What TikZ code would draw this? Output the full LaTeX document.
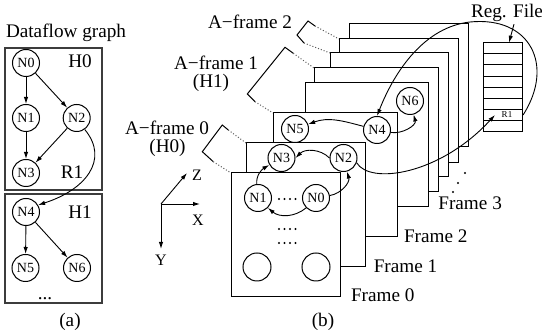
\documentclass[tikz,border=0pt]{standalone}
\usepackage{fontspec}
\setmainfont{Liberation Serif}
\usetikzlibrary{arrows.meta}
\definecolor{boxgray}{RGB}{60,60,60}
\definecolor{dotgray}{RGB}{90,90,90}

\begin{document}
\begin{tikzpicture}[x=0.5pt, y=-0.5pt,
    every node/.style={font=\fontsize{9.6}{11}\selectfont, inner sep=1pt},
    gnode/.style={circle, draw, inner sep=0pt, minimum size=13.5pt, line width=0.5pt,
                  font=\fontsize{7}{8}\selectfont},
    emptynode/.style={circle, draw, inner sep=0pt, minimum size=14pt, line width=0.5pt},
    regionbox/.style={rectangle, draw=boxgray, line width=0.7pt, minimum width=48.5pt, inner sep=0pt},
    framebox/.style={rectangle, draw, fill=white, line width=0.5pt, inner sep=0pt, outer sep=0pt},
    dotrow/.style={inner sep=0pt, text height=1.2pt, text depth=0pt},
    axislbl/.style={font=\fontsize{8}{9}\selectfont},
    arr/.style={-{Latex[length=3.5pt,width=2.2pt]}, line width=0.45pt},
    abrack/.style={line width=0.5pt},
    adot/.style={densely dotted, line width=0.5pt, dotgray}]

\useasboundingbox (0,0) rectangle (542,330);

% (a) dataflow graph
\node (dftitle) at (66,33) {Dataflow graph};
\node[regionbox, minimum height=71pt] (h0box) at (53.5,119) {};
\node[regionbox, minimum height=54.5pt] (h1box) at (53.5,248.5) {};
\node (h0lbl) at (80,61) {H0};
\node (r1lbl) at (72,172) {R1};
\node (h1lbl) at (80,212) {H1};
\node[gnode] (n0a) at (26,63) {N0};
\node[gnode] (n1a) at (26,118) {N1};
\node[gnode] (n2a) at (76.7,118) {N2};
\node[gnode] (n3a) at (26,173) {N3};
\node[gnode] (n4a) at (26,212) {N4};
\node[gnode] (n5a) at (25.5,268) {N5};
\node[gnode] (n6a) at (77,268) {N6};
\node[dotrow] (moredots) at (45,298) {...};
\node (capa) at (70,322) {(a)};

\draw[arr] (n0a) -- (n1a);
\draw[arr] (n0a) -- (n2a);
\draw[arr] (n1a) -- (n3a);
\draw[arr] (n2a) -- (n3a);
\draw[arr] (n4a) -- (n5a);
\draw[arr] (n4a) -- (n6a);
\draw[arr] (n2a.-55) .. controls (110,160) and (85,190) .. (n4a.30);

% (b) axes
\coordinate (ax0) at (161,204);
\coordinate (axz) at (187,173);
\coordinate (axx) at (200,204);
\coordinate (axy) at (161,249);
\draw[arr] (ax0) -- (axz);
\draw[arr] (ax0) -- (axx);
\draw[arr] (ax0) -- (axy);
\node[axislbl] (zlbl) at (197,175) {Z};
\node[axislbl] (xlbl) at (198,220) {X};
\node[axislbl] (ylbl) at (161,260) {Y};

% frames, back to front
\foreach \n/\l/\t/\r/\b in {7/349/24/468/147, 6/339/39/458/163, 5/330/53/448/177,
    4/314/68/438/192, 3/305/83/428/207, 2/273/113/397/237,
    1/246/143/365/267, 0/231/173/340/297}
  \node[framebox, minimum width={(\r-\l)*0.5pt}, minimum height={(\b-\t)*0.5pt}]
    (f\n) at ({(\l+\r)/2},{(\t+\b)/2}) {};

\foreach \n/\dx/\dy in {0/4.3/1, 1/3.2/0.5, 2/2.3/0.5, 3/4/2}
  \node[anchor=west] (lf\n) at ([xshift=\dx pt, yshift=\dy pt]f\n.south east) {Frame \n};

\fill[black] (465,173) circle (0.6pt) (458,183) circle (0.6pt) (453,192) circle (0.6pt);

\node[gnode] (n6b) at (410,101) {N6};
\node[gnode] (n5b) at (295,129) {N5};
\node[gnode] (n4b) at (377,130) {N4};
\node[gnode] (n3b) at (281.5,158) {N3};
\node[gnode] (n2b) at (343.5,158) {N2};
\node[gnode] (n1b) at (258,198) {N1};
\node[gnode] (n0b) at (316,198) {N0};
\foreach \y in {199,229,243}
  \foreach \x in {279,284.5,290,295.5}
    \fill[black] (\x,\y) circle (0.55pt);
\node[emptynode] (e1b) at (257,267) {};
\node[emptynode] (e2b) at (316,267) {};

% register file
\node[framebox, minimum width=19.7pt, minimum height=44.5pt] (regfile) at (503,87.2) {};
\foreach \k in {1,...,7}
  \draw[line width=0.5pt] (regfile.north west) ++(0,\k*11.125) -- ++(39.4,0);
\node[inner sep=0pt, minimum width=19.7pt, minimum height=5.5pt,
      font=\fontsize{4.5}{5}\selectfont] (r1) at (503,115) {\hspace{4pt}R1};
\node (regtxt) at (507,13) {Reg. File};
\draw[arr] ([xshift=3.5pt]regtxt.south) -- ([xshift=3pt]regfile.north);

% data flow between frames
\draw[arr] (n0b.south west) to[bend left=40] (n1b.south east);
\draw[arr] (n1b) to[out=95,in=-150] (n3b);
\draw[arr] (n0b) to[out=10,in=-75] (n2b);
\draw[arr] (n2b.west) to[out=135,in=45] (n3b.east);
\draw[arr] (n4b) to[out=165,in=20] (n5b);
\draw[arr] (n4b) to[out=-10,in=-75] (n6b);
\draw[arr] (n2b.-20) .. controls (370,185) and (440,175) .. ([xshift=-4pt]r1.center);
\draw[arr] (r1.east) .. controls (555,65) and (530,16) .. (470,22)
    .. controls (425,27) and (395,70) .. (n4b.north);

% A-frames
\node (af2) at (250,22) {A−frame 2};
\node (af1) at (216,63) {A−frame 1};
\node (af1h) at (211,83) {(H1)};
\node (af0) at (167,128) {A−frame 0};
\node (af0h) at (167.5,148) {(H0)};

\coordinate (a2u) at (315,26);
\coordinate (a2d) at (304,43);
\draw[abrack] (a2u) -- (308,21) -- (297,35) -- (a2d);
\draw[adot] (a2u) -- (f6.north west);
\draw[adot] (a2d) -- (f5.north west);

\coordinate (a1u) at (293.3,53.3);
\coordinate (a1d) at (255,101.7);
\draw[abrack] (a1u) -- (285,47.3) -- (247.3,94) -- (a1d);
\draw[adot] (a1u) -- (f4.north west);
\draw[adot] (a1d) -- (f2.north west);

\coordinate (a0u) at (228.3,130);
\coordinate (a0d) at (213.3,161.7);
\draw[abrack] (a0u) -- (222.3,125) -- (202.3,151.7) -- (a0d);
\draw[adot] (a0u) -- (f1.north west);
\draw[adot] (a0d) -- (f0.north west);

\node (capb) at (323,322) {(b)};
\end{tikzpicture}
\end{document}
